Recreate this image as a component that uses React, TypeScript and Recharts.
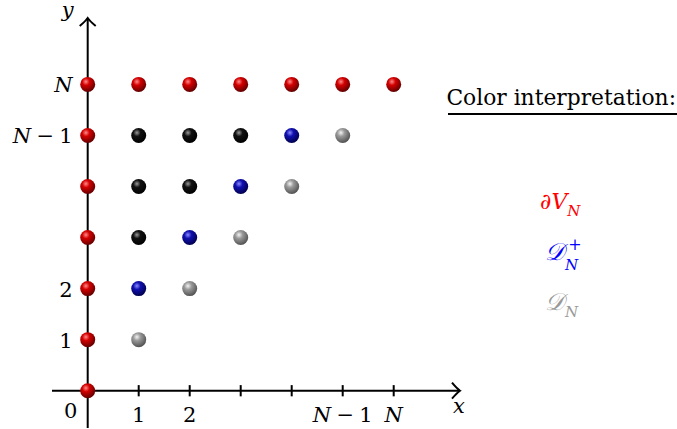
import { ScatterChart, Scatter, XAxis, YAxis, ReferenceLine, ReferenceDot } from 'recharts';

// lattice points, grouped by colour class
const boundaryPts = [
  { x: 0, y: 0 }, { x: 0, y: 1 }, { x: 0, y: 2 }, { x: 0, y: 3 }, { x: 0, y: 4 }, { x: 0, y: 5 }, { x: 0, y: 6 },
  { x: 1, y: 6 }, { x: 2, y: 6 }, { x: 3, y: 6 }, { x: 4, y: 6 }, { x: 5, y: 6 }, { x: 6, y: 6 },
];
const interiorPts = [
  { x: 1, y: 5 }, { x: 2, y: 5 }, { x: 3, y: 5 },
  { x: 1, y: 4 }, { x: 2, y: 4 },
  { x: 1, y: 3 },
];
const diagPlusPts = [{ x: 4, y: 5 }, { x: 3, y: 4 }, { x: 2, y: 3 }, { x: 1, y: 2 }];
const diagPts = [{ x: 5, y: 5 }, { x: 4, y: 4 }, { x: 3, y: 3 }, { x: 2, y: 2 }, { x: 1, y: 1 }];

const xTicks = [1, 2, 3, 4, 5, 6];
const xTickLabels = ['1', '2', '', '', 'N\u2005\u2212\u20051', 'N'];
const yTicks = [1, 2, 3, 4, 5, 6];
const yTickLabels = ['1', '2', '', '', 'N\u2005\u2212\u20051', 'N'];

const W = 677;
const H = 429;
const MATH = '"DejaVu Serif", serif';

const ballColors: { [k: string]: [string, string, string] } = {
  red: ['#ff8a8a', '#d40000', '#600000'],
  black: ['#9a9a9a', '#111111', '#000000'],
  blue: ['#8a8aff', '#1010b0', '#00004a'],
  gray: ['#f4f4f4', '#9a9a9a', '#505050'],
};

const ball = (name: string) => (props: any) => {
  const [hi, mid, lo] = ballColors[name];
  const id = `ball-${name}`;
  return (
    <g>
      <defs>
        <radialGradient id={id} cx="38%" cy="32%" r="70%">
          <stop offset="0%" stopColor={hi} />
          <stop offset="35%" stopColor={mid} />
          <stop offset="100%" stopColor={lo} />
        </radialGradient>
      </defs>
      <circle cx={props.cx} cy={props.cy} r={7.5} fill={`url(#${id})`} />
    </g>
  );
};

const mathLabel = (s: string) =>
  s.startsWith('N') ? (
    <>
      <tspan fontStyle="italic">N</tspan>
      {s.slice(1)}
    </>
  ) : (
    s
  );

const textAt = (content: any, dx: number, dy: number, anchor: string, italic = false) => (props: any) => (
  <text
    x={props.cx + dx}
    y={props.cy + dy}
    textAnchor={anchor}
    fontFamily={MATH}
    fontSize={21}
    fontStyle={italic ? 'italic' : 'normal'}
    fill="#000"
  >
    {content}
  </text>
);

const xArrow = (props: any) => (
  <path
    d={`M ${props.cx - 8} ${props.cy - 8} Q ${props.cx - 3} ${props.cy - 2} ${props.cx} ${props.cy} Q ${props.cx - 3} ${props.cy + 2} ${props.cx - 8} ${props.cy + 8}`}
    fill="none"
    stroke="#000"
    strokeWidth={2}
  />
);
const yArrow = (props: any) => (
  <path
    d={`M ${props.cx - 8} ${props.cy + 8} Q ${props.cx - 2} ${props.cy + 3} ${props.cx} ${props.cy} Q ${props.cx + 2} ${props.cy + 3} ${props.cx + 8} ${props.cy + 8}`}
    fill="none"
    stroke="#000"
    strokeWidth={2}
  />
);

export default function App() {
  return (
    <div style={{ position: 'absolute', left: 0, top: 0, width: W, height: H, background: '#fff' }}>
      <ScatterChart width={W} height={H} margin={{ top: 18, right: 217, bottom: 1, left: 52 }}>
        <XAxis type="number" dataKey="x" domain={[-0.7, 7.3]} hide />
        <YAxis type="number" dataKey="y" domain={[-0.73, 7.3]} hide />

        <ReferenceLine segment={[{ x: -0.7, y: 0 }, { x: 7.3, y: 0 }]} stroke="#000" strokeWidth={2} ifOverflow="visible" />
        <ReferenceLine segment={[{ x: 0, y: -0.73 }, { x: 0, y: 7.3 }]} stroke="#000" strokeWidth={2} ifOverflow="visible" />
        {xTicks.map((t) => (
          <ReferenceLine key={`xt${t}`} segment={[{ x: t, y: -0.11 }, { x: t, y: 0.11 }]} stroke="#000" strokeWidth={2} ifOverflow="visible" />
        ))}
        <ReferenceDot x={7.3} y={0} r={0} ifOverflow="visible" shape={xArrow} />
        <ReferenceDot x={0} y={7.3} r={0} ifOverflow="visible" shape={yArrow} />

        {xTicks.map((t, i) =>
          xTickLabels[i] ? (
            <ReferenceDot key={`xl${t}`} x={t} y={0} r={0} ifOverflow="visible" shape={textAt(mathLabel(xTickLabels[i]), 0, 31, 'middle')} />
          ) : null
        )}
        {yTicks.map((t, i) =>
          yTickLabels[i] ? (
            <ReferenceDot key={`yl${t}`} x={0} y={t} r={0} ifOverflow="visible" shape={textAt(mathLabel(yTickLabels[i]), -15, 8, 'end')} />
          ) : null
        )}
        <ReferenceDot x={0} y={0} r={0} ifOverflow="visible" shape={textAt('0', -17, 27, 'middle')} />
        <ReferenceDot x={7.3} y={0} r={0} ifOverflow="visible" shape={textAt('x', -1, 22, 'middle', true)} />
        <ReferenceDot x={0} y={7.3} r={0} ifOverflow="visible" shape={textAt('y', -20, -1, 'middle', true)} />

        <Scatter name="interior" data={interiorPts} shape={ball('black')} isAnimationActive={false} />
        <Scatter name="D+" data={diagPlusPts} shape={ball('blue')} isAnimationActive={false} />
        <Scatter name="D" data={diagPts} shape={ball('gray')} isAnimationActive={false} />
        <Scatter name="boundary" data={boundaryPts} shape={ball('red')} isAnimationActive={false} />
      </ScatterChart>

      <svg width={W} height={H} style={{ position: 'absolute', left: 0, top: 0, pointerEvents: 'none' }}>
        <text x={676} y={105} textAnchor="end" fontFamily='"DejaVu Serif", serif' fontSize={21.8} fill="#000">
          Color interpretation:
        </text>
        <line x1={448} y1={114} x2={677} y2={114} stroke="#000" strokeWidth={2} />

        <text x={540} y={209} fontFamily={MATH} fontSize={22} fill="#ff0000" fontStyle="italic">
          ∂V<tspan fontSize={15} dy={7}>N</tspan>
        </text>

        <text x={545} y={260} fontFamily='"Liberation Serif", serif' fontSize={24} fill="#0000ff" fontStyle="italic">
          𝒟
        </text>
        <text x={565} y={270} fontFamily={MATH} fontSize={15} fill="#0000ff" fontStyle="italic">N</text>
        <text x={575} y={250} textAnchor="middle" fontFamily={MATH} fontSize={16} fill="#0000ff">+</text>

        <text x={545} y={310} fontFamily='"Liberation Serif", serif' fontSize={24} fill="#999999" fontStyle="italic">
          𝒟
        </text>
        <text x={565} y={317} fontFamily={MATH} fontSize={15} fill="#999999" fontStyle="italic">N</text>
      </svg>
    </div>
  );
}
